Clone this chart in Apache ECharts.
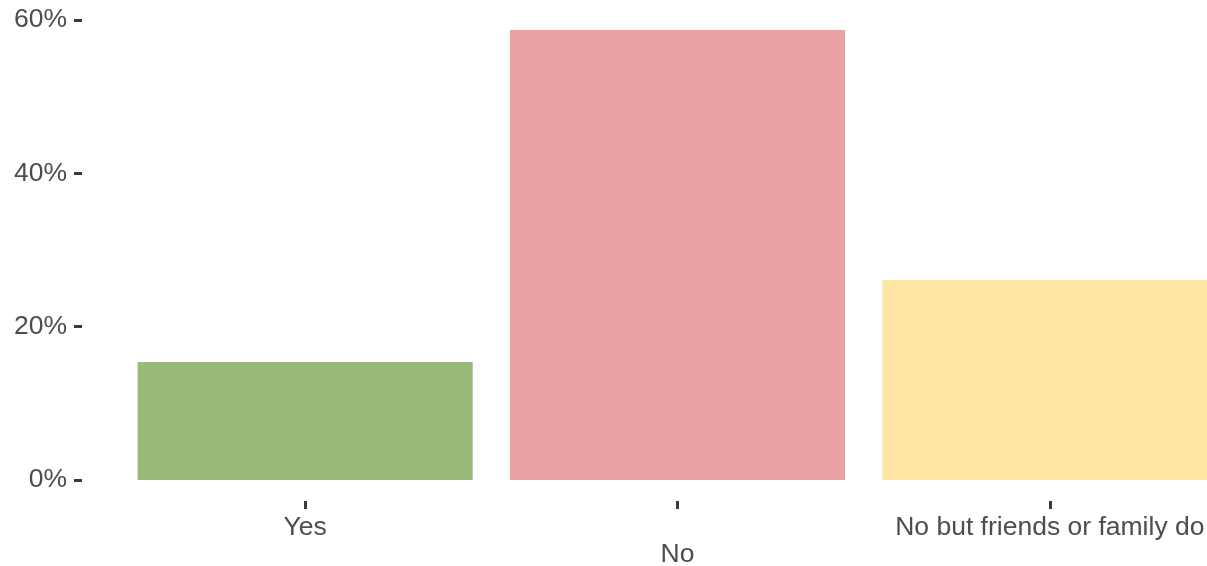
<!DOCTYPE html>
<html>
<head>
<meta charset="utf-8">
<script src="https://cdn.jsdelivr.net/npm/echarts@6/dist/echarts.min.js"></script>
<style>
html,body{margin:0;padding:0;background:#fff;}
#chart{width:1207px;height:566px;}
</style>
</head>
<body>
<div id="chart"></div>
<script>
const categories = ['Yes', 'No', 'No but friends or family do'];
const values = [15.4, 58.7, 26.1];
const barColors = ['#98BA7A', '#EAA3A4', '#FEE6A2'];
const yTicks = [0, 20, 40, 60];

const chart = echarts.init(document.getElementById('chart'), null, {renderer: 'canvas'});
chart.setOption({
  animation: false,
  backgroundColor: '#ffffff',
  grid: {left: 119, right: -29, top: 20, bottom: 86, containLabel: false, outerBoundsMode: 'none'},
  xAxis: {
    type: 'category',
    data: categories,
    offset: 21,
    axisLine: {show: false, onZero: false},
    axisTick: {show: true, alignWithLabel: true, length: 8, lineStyle: {color: '#3a3a3a', width: 3}},
    axisLabel: {
      color: '#4D4D4D', fontSize: 26.5, fontFamily: 'Liberation Sans, Arial, sans-serif',
      margin: 13, lineHeight: 27, interval: 0,
      formatter: function (v, i) { return i % 2 === 1 ? '\n' + v : v; }
    },
    splitLine: {show: false}
  },
  yAxis: {
    type: 'value',
    min: yTicks[0], max: yTicks[yTicks.length - 1], interval: 20,
    offset: 37,
    axisLine: {show: false},
    axisTick: {show: true, length: 8, lineStyle: {color: '#3a3a3a', width: 3}},
    axisLabel: {
      color: '#4D4D4D', fontSize: 26.5, fontFamily: 'Liberation Sans, Arial, sans-serif',
      margin: 15, formatter: '{value}%'
    },
    splitLine: {show: false}
  },
  series: [{
    type: 'bar',
    barCategoryGap: '10%',
    data: values.map((v, i) => ({value: v, itemStyle: {color: barColors[i]}}))
  }]
});
</script>
</body>
</html>
